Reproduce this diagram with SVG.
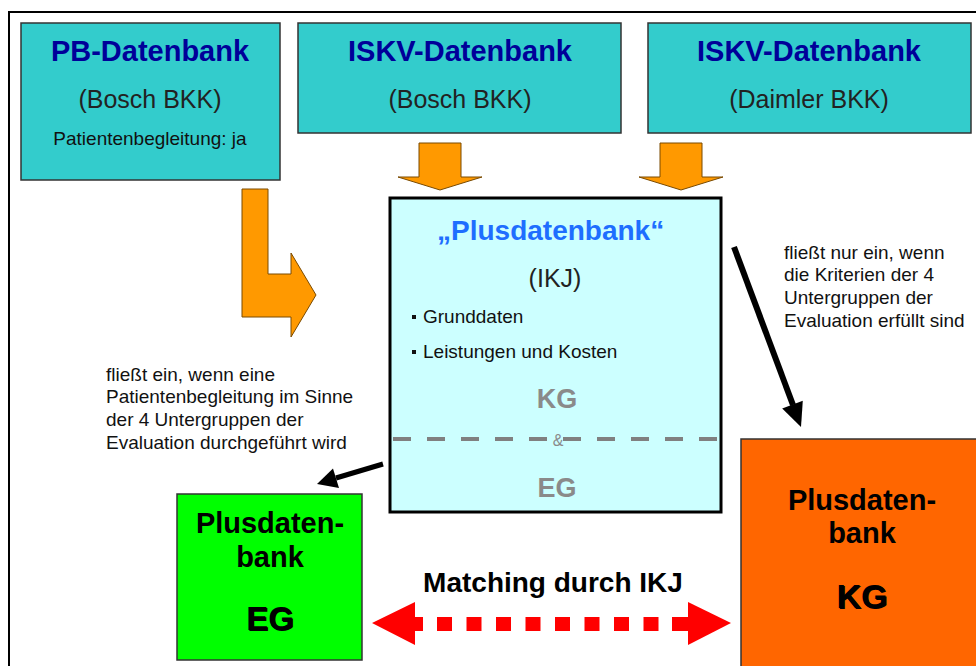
<svg xmlns="http://www.w3.org/2000/svg" width="976" height="666" viewBox="0 0 976 666">
<style>
text{font-family:"Liberation Sans",Arial,sans-serif}
.cy{fill:#33CCCC;stroke:#333;stroke-width:1.5}
.ttl{font-size:29px;font-weight:bold;fill:#000099;text-anchor:middle}
.sub{font-size:25px;fill:#222;text-anchor:middle}
.note{font-size:19px;fill:#111}
.oa{fill:#FF9900;stroke:#7a4a00;stroke-width:1}
.big{font-weight:bold;fill:#000;text-anchor:middle}
.grey{font-size:27px;font-weight:bold;fill:#8a8a8a;text-anchor:middle}
.red{fill:#FF0000}
</style>
<rect width="976" height="666" fill="#fff"/>
<polyline points="9,666 9,12 976,12" fill="none" stroke="#000" stroke-width="2"/>

<g id="pb-datenbank">
<rect class="cy" x="21" y="23" width="259" height="157"/>
<text class="ttl" x="150" y="61" font-size="28">PB-Datenbank</text>
<text class="sub" x="150" y="108">(Bosch BKK)</text>
<text class="note" x="150" y="145" text-anchor="middle">Patientenbegleitung: ja</text>
</g>

<g id="iskv-bosch">
<rect class="cy" x="298" y="23" width="323" height="110"/>
<text class="ttl" x="460" y="61">ISKV-Datenbank</text>
<text class="sub" x="460" y="108">(Bosch BKK)</text>
</g>

<g id="iskv-daimler">
<rect class="cy" x="648" y="23" width="323" height="110"/>
<text class="ttl" x="809" y="61">ISKV-Datenbank</text>
<text class="sub" x="809" y="108">(Daimler BKK)</text>
</g>

<g id="plusdatenbank-ikj">
<rect x="390" y="198" width="331" height="314" fill="#CCFFFF" stroke="#000" stroke-width="3"/>
<text x="437" y="240" font-size="28" font-weight="bold" fill="#1E6EFF">„Plusdatenbank“</text>
<text class="sub" x="555" y="287">(IKJ)</text>
<rect x="412" y="315" width="4" height="4" fill="#111"/>
<text class="note" x="423" y="323">Grunddaten</text>
<rect x="412" y="350" width="4" height="4" fill="#111"/>
<text class="note" x="423" y="358">Leistungen und Kosten</text>
<text class="grey" x="557" y="408">KG</text>
<line x1="393" y1="439" x2="720" y2="439" stroke="#808080" stroke-width="4" stroke-dasharray="18,16"/>
<text x="558" y="446" font-size="16" fill="#8a8a8a" text-anchor="middle">&amp;</text>
<text class="grey" x="557" y="497">EG</text>
</g>

<g id="plusdatenbank-eg">
<rect x="177" y="494" width="185" height="166" fill="#00FF00" stroke="#333" stroke-width="1.5"/>
<text class="big" x="270" y="533" font-size="29">Plusdaten-</text>
<text class="big" x="270" y="567" font-size="29">bank</text>
<text class="big" x="271" y="631" font-size="33" fill="#999">EG</text>
<text class="big" x="270" y="630" font-size="33">EG</text>
</g>

<g id="plusdatenbank-kg">
<rect x="741" y="439" width="240" height="232" fill="#FF6600" stroke="#333" stroke-width="1.5"/>
<text class="big" x="862" y="510" font-size="29">Plusdaten-</text>
<text class="big" x="862" y="543" font-size="29">bank</text>
<text class="big" x="863" y="609" font-size="34" fill="#999">KG</text>
<text class="big" x="862" y="608" font-size="34">KG</text>
</g>

<g id="connectors">
<polygon class="oa" points="419,143 461,143 461,177 482,177 440,190 398,177 419,177"/>
<polygon class="oa" points="660,143 702,143 702,177 723,177 681,190 639,177 660,177"/>
<polygon class="oa" points="242,189 268,189 268,274 291,274 291,253 316,295 291,337 291,317 242,317"/>
<line x1="734" y1="247" x2="793" y2="405" stroke="#000" stroke-width="6"/>
<polygon points="801,427 802.8,400.7 782.2,408.5" fill="#000"/>
<line x1="383" y1="464" x2="336" y2="478" stroke="#000" stroke-width="5"/>
<polygon points="317,484 339,488 333,468.5" fill="#000"/>
<polygon class="red" points="372,623 415,602 415,617 423,617 423,631 415,631 415,645"/>
<rect class="red" x="437" y="617" width="15" height="14"/>
<rect class="red" x="466.5" y="617" width="15" height="14"/>
<rect class="red" x="496" y="617" width="15" height="14"/>
<rect class="red" x="525.5" y="617" width="15" height="14"/>
<rect class="red" x="555" y="617" width="15" height="14"/>
<rect class="red" x="584.5" y="617" width="15" height="14"/>
<rect class="red" x="614" y="617" width="15" height="14"/>
<rect class="red" x="643.5" y="617" width="15" height="14"/>
<rect class="red" x="672" y="617" width="17" height="14"/>
<polygon class="red" points="688,602 731,623 688,645"/>
<text class="big" x="553" y="592" font-size="28">Matching durch IKJ</text>
</g>

<g id="labels">
<text class="note" x="106" y="381">fließt ein, wenn eine</text>
<text class="note" x="106" y="403">Patientenbegleitung im Sinne</text>
<text class="note" x="106" y="426">der 4 Untergruppen der</text>
<text class="note" x="106" y="449">Evaluation durchgeführt wird</text>
<text class="note" x="784" y="259">fließt nur ein, wenn</text>
<text class="note" x="784" y="281">die Kriterien der 4</text>
<text class="note" x="784" y="304">Untergruppen der</text>
<text class="note" x="784" y="327">Evaluation erfüllt sind</text>
</g>
</svg>
